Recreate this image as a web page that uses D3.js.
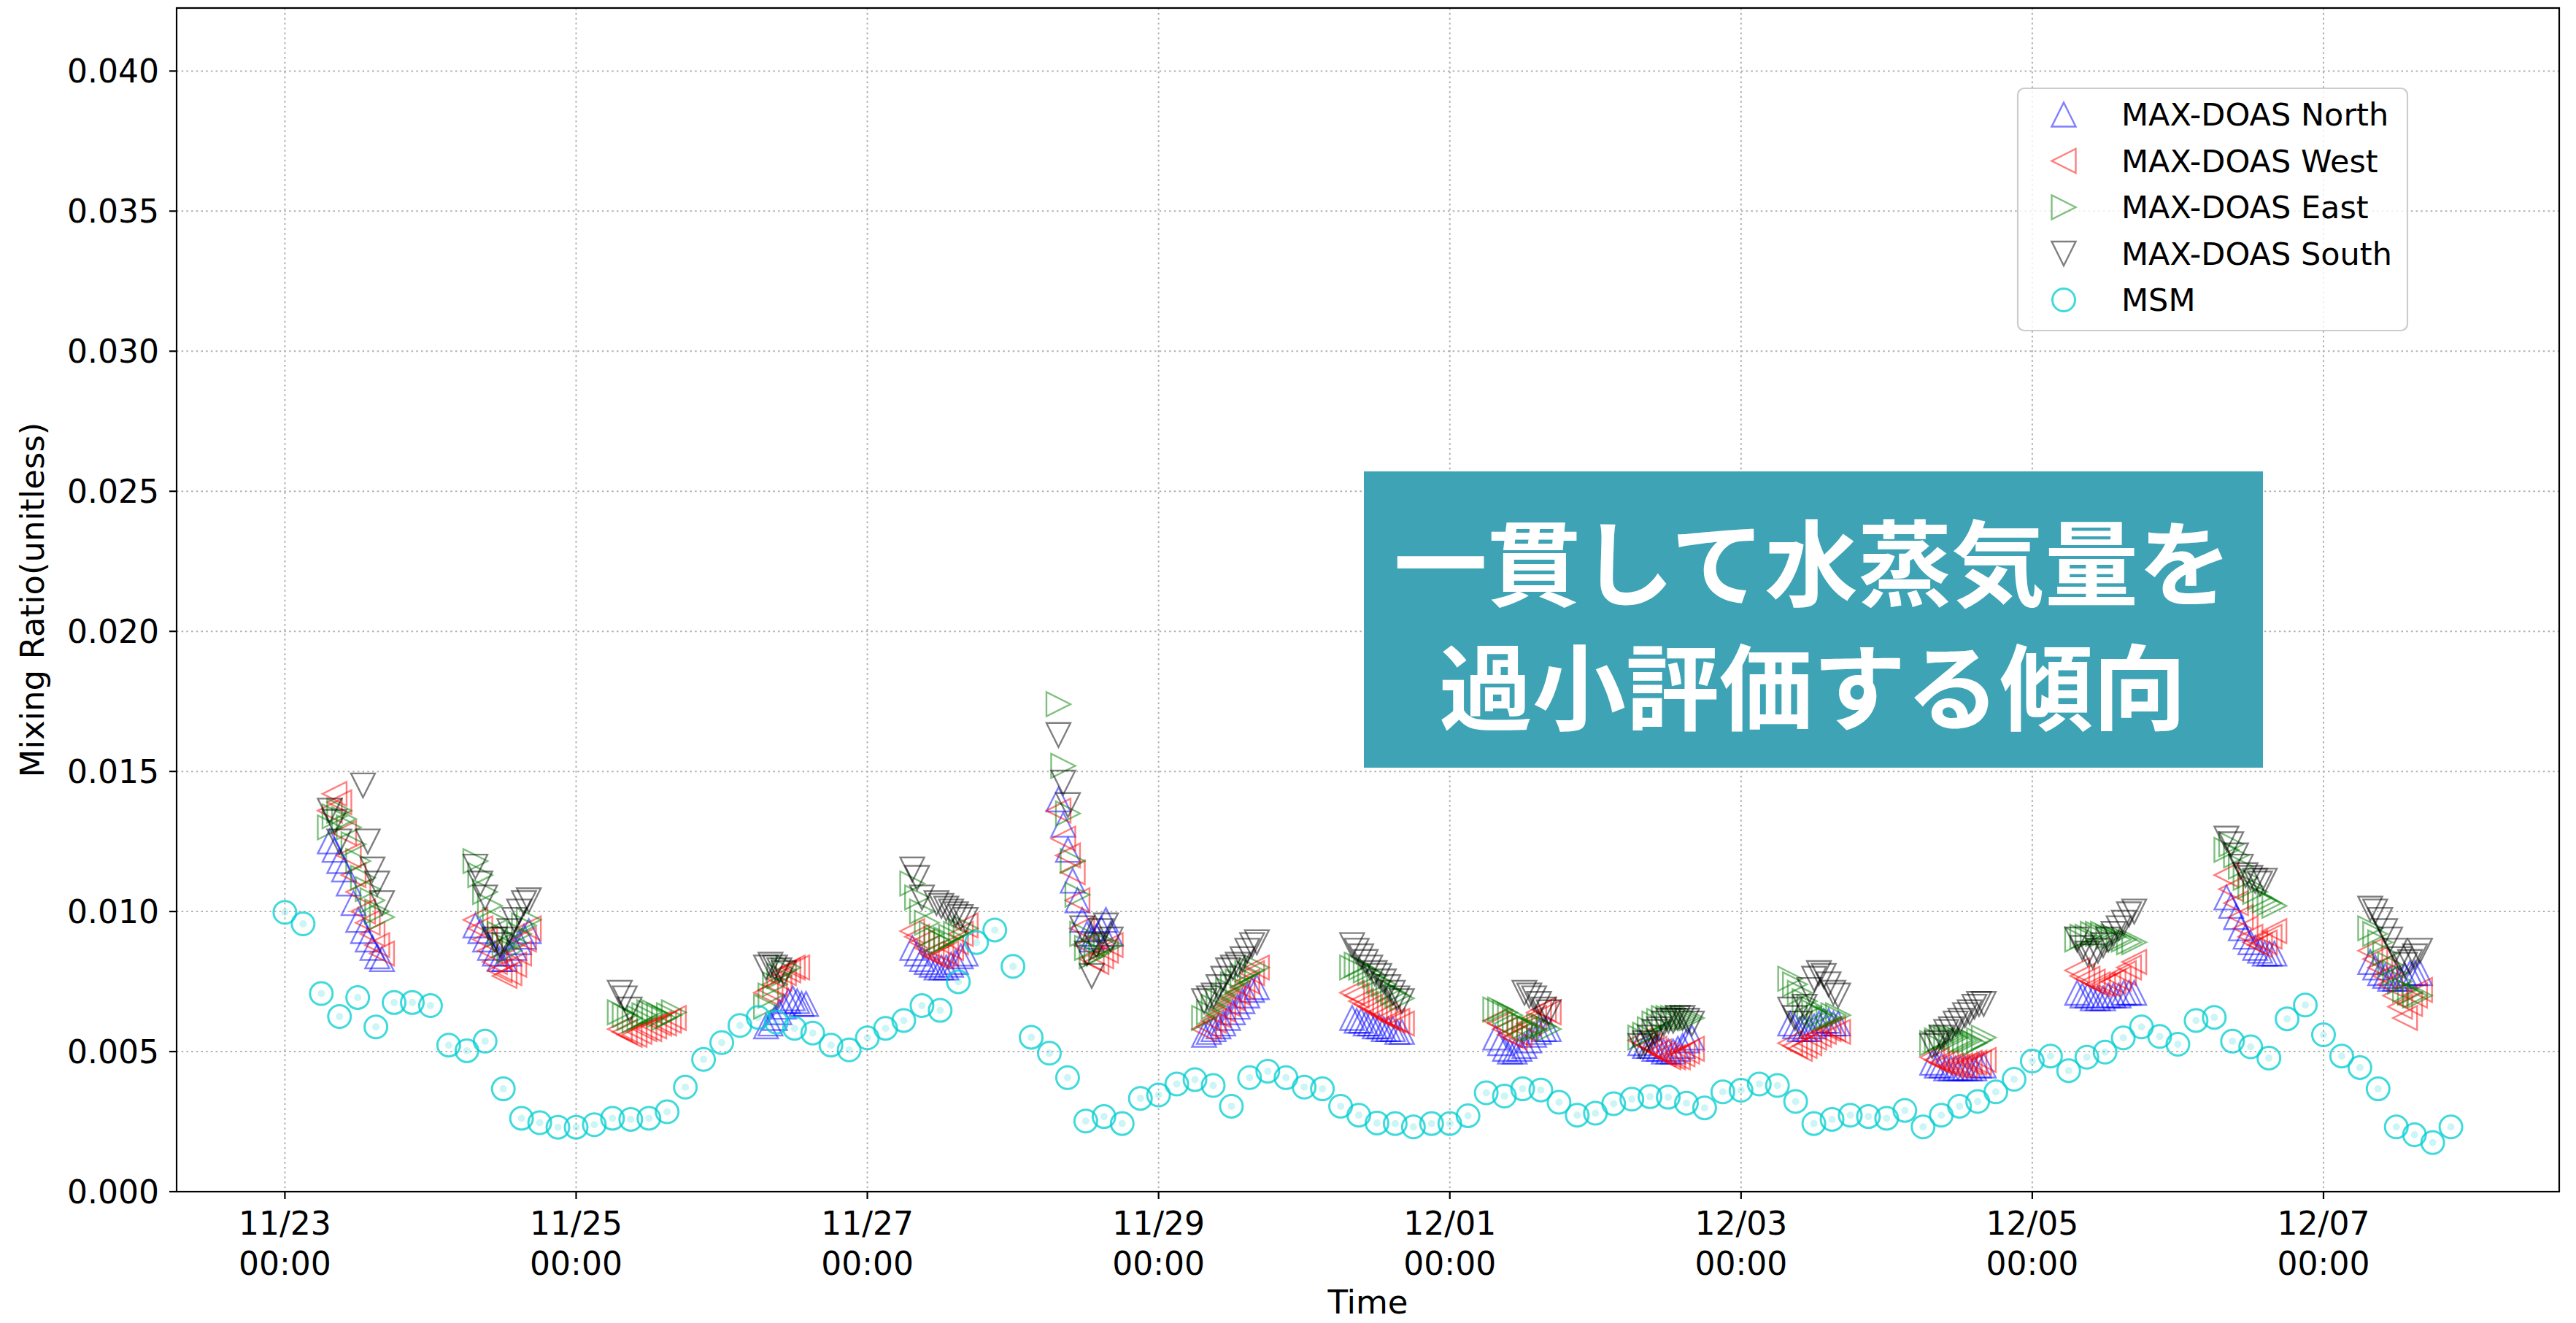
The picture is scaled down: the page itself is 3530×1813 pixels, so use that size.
<!DOCTYPE html>
<html><head><meta charset="utf-8">
<script src="https://cdn.jsdelivr.net/npm/d3@7"></script>
<style>body{margin:0;background:#fff} svg{display:block}</style>
</head><body>
<svg id="chart" width="3530" height="1813"></svg>
<script>
// ---------------- DATA ----------------
const msmStart = "2023-11-23T00:00:00Z";
const msmStepHours = 3;
const msmValues = [
 0.00997,0.00956,0.00707,0.00625,0.00693,0.00588,0.00675,0.00675,
 0.00664,0.00523,0.00503,0.00537,0.00367,0.00262,0.00246,0.00230,
 0.00230,0.00239,0.00262,0.00258,0.00262,0.00285,0.00373,0.00472,
 0.00532,0.00593,0.00622,0.00605,0.00583,0.00566,0.00523,0.00506,
 0.00549,0.00583,0.00611,0.00664,0.00647,0.00749,0.00889,0.00934,
 0.00804,0.00551,0.00494,0.00407,0.00252,0.00268,0.00243,0.00333,
 0.00345,0.00384,0.00400,0.00379,0.00305,0.00407,0.00430,0.00407,
 0.00373,0.00367,0.00305,0.00273,0.00245,0.00243,0.00231,0.00243,
 0.00243,0.00271,0.00353,0.00341,0.00367,0.00363,0.00319,0.00273,
 0.00280,0.00314,0.00330,0.00339,0.00337,0.00316,0.00299,0.00356,
 0.00362,0.00384,0.00379,0.00322,0.00243,0.00258,0.00273,0.00268,
 0.00262,0.00290,0.00231,0.00273,0.00305,0.00322,0.00356,0.00401,
 0.00466,0.00484,0.00432,0.00480,0.00498,0.00549,0.00588,0.00554,
 0.00526,0.00611,0.00622,0.00537,0.00517,0.00477,0.00617,0.00666,
 0.00560,0.00484,0.00443,0.00367,0.00231,0.00203,0.00175,0.00231];

const clusterDates = ["2023-11-23","2023-11-24","2023-11-25","2023-11-26","2023-11-27",
 "2023-11-28","2023-11-29","2023-11-30","2023-12-01","2023-12-02","2023-12-03",
 "2023-12-04","2023-12-05","2023-12-06","2023-12-07"];
const clusterStartHour = [7.4,7.4,7.2,7.3,7.4,7.5,7.5,7.9,7.5,7.4,8.1,7.5,7.4,8.0,7.7];
const clusterEndHour   = [16.0,16.2,16.1,13.9,16.2,16.1,16.2,16.1,16.3,15.9,16.0,16.0,16.8,15.9,15.9];

const northValues = [
 [0.0125,0.0122,0.0118,0.0115,0.0110,0.0103,0.0097,0.0093,0.0090,0.0087,0.0084,0.0083],
 [0.0095,0.0093,0.0090,0.0087,0.0085,0.0083,0.0083,0.0085,0.0087,0.0089,0.0091,0.0093],
 [null,null,null,null,null,null,null,null,null,null,null,null],
 [0.0059,0.0060,0.0062,0.0064,0.0066,0.0068,0.0069,0.0068,0.0067,0.0067],
 [0.0087,0.0085,0.0083,0.0082,0.0081,0.0080,0.0080,0.0080,0.0081,0.0082,0.0084,0.0085],
 [0.0140,0.0131,0.0122,0.0111,0.0104,0.0097,0.0092,0.0090,0.0091,0.0094,0.0097,0.0092],
 [0.0056,0.0057,0.0058,0.0059,0.0060,0.0062,0.0064,0.0066,0.0068,0.0070,0.0072,0.0073],
 [0.0062,0.0061,0.0061,0.0060,0.0060,0.0059,0.0059,0.0058,0.0058,0.0058,0.0057,0.0057],
 [0.0055,0.0053,0.0051,0.0050,0.0050,0.0051,0.0052,0.0054,0.0056,0.0057,0.0058,0.0058],
 [0.0053,0.0052,0.0052,0.0051,0.0051,0.0050,0.0050,0.0050,0.0051,0.0052,0.0054,0.0055],
 [0.0060,0.0059,0.0058,0.0058,0.0058,0.0059,0.0060,0.0061,0.0061,0.0060,0.0060],
 [0.0046,0.0045,0.0045,0.0044,0.0044,0.0044,0.0044,0.0044,0.0044,0.0044,0.0045,0.0045],
 [0.0071,0.0070,0.0070,0.0069,0.0069,0.0069,0.0070,0.0070,0.0070,0.0071,0.0071,0.0071],
 [0.0105,0.0102,0.0098,0.0094,0.0091,0.0089,0.0087,0.0086,0.0085,0.0085,0.0085],
 [0.0082,0.0080,0.0078,0.0077,0.0076,0.0076,0.0076,0.0077,0.0078,0.0078,0.0078]];

const westValues = [
 [0.0136,0.0142,0.0139,0.0128,0.0120,0.0113,0.0107,0.0100,0.0096,0.0092,0.0088,0.0085],
 [0.0097,0.0094,0.0090,0.0086,0.0082,0.0079,0.0077,0.0078,0.0081,0.0085,0.0090,0.0094],
 [0.0058,0.0057,0.0056,0.0056,0.0057,0.0058,0.0058,0.0059,0.0060,0.0060,0.0061,0.0062],
 [0.0071,0.0072,0.0074,0.0076,0.0078,0.0079,0.0080,0.0080,null,null],
 [0.0093,0.0091,0.0089,0.0087,0.0085,0.0084,0.0084,0.0085,0.0087,0.0089,0.0092,0.0095],
 [0.0136,0.0126,0.0120,0.0114,0.0104,0.0094,0.0088,0.0083,0.0082,0.0084,0.0086,0.0088],
 [0.0058,0.0059,0.0061,0.0063,0.0065,0.0067,0.0069,0.0071,0.0073,0.0075,0.0078,0.0080],
 [0.0071,0.0070,0.0068,0.0067,0.0066,0.0065,0.0064,0.0063,0.0062,0.0061,0.0061,0.0060],
 [0.0061,0.0060,0.0058,0.0056,0.0055,0.0056,0.0058,0.0060,0.0062,0.0064,0.0065,0.0064],
 [0.0054,0.0053,0.0052,0.0051,0.0050,0.0049,0.0048,0.0048,0.0048,0.0049,0.0050,0.0051],
 [0.0053,0.0052,0.0051,0.0052,0.0053,0.0055,0.0056,0.0057,0.0058,0.0058,0.0057],
 [0.0048,0.0047,0.0046,0.0046,0.0045,0.0045,0.0045,0.0045,0.0046,0.0046,0.0046,0.0047],
 [0.0079,0.0077,0.0076,0.0075,0.0074,0.0074,0.0074,0.0075,0.0076,0.0078,0.0080,0.0082],
 [0.0113,0.0108,0.0103,0.0098,0.0094,0.0091,0.0089,0.0088,0.0089,0.0091,0.0093],
 [0.0086,0.0083,0.0080,0.0077,0.0074,0.0070,0.0066,0.0062,0.0067,0.0070,0.0072]];

const eastValues = [
 [0.0130,0.0134,0.0136,0.0133,0.0130,0.0124,0.0118,0.0112,0.0108,0.0104,0.0100,0.0098],
 [0.0118,0.0113,0.0107,0.0102,0.0097,0.0092,0.0088,0.0086,0.0089,0.0092,0.0095,0.0097],
 [0.0064,0.0063,0.0062,0.0061,0.0062,0.0063,0.0064,0.0064,0.0063,0.0062,0.0063,0.0064],
 [0.0066,0.0070,0.0074,0.0077,0.0079,0.0080,null,null,null,null],
 [0.0110,0.0105,0.0100,0.0096,0.0092,0.0090,0.0089,0.0090,0.0091,0.0092,0.0093,0.0094],
 [0.0174,0.0152,0.0135,0.0118,0.0106,0.0092,0.0087,0.0084,0.0085,0.0087,0.0088,0.0088],
 [0.0062,0.0064,0.0066,0.0068,0.0070,0.0072,0.0074,0.0075,0.0077,0.0078,0.0079,0.0080],
 [0.0080,0.0081,0.0080,0.0079,0.0078,0.0077,0.0075,0.0074,0.0072,0.0071,0.0070,0.0069],
 [0.0065,0.0065,0.0064,0.0063,0.0061,0.0060,0.0059,0.0058,0.0058,0.0059,0.0059,0.0058],
 [0.0055,0.0056,0.0058,0.0060,0.0061,0.0062,0.0062,0.0062,0.0062,0.0062,0.0062,0.0062],
 [0.0076,0.0074,0.0071,0.0068,0.0066,0.0064,0.0063,0.0062,0.0062,0.0063,0.0063],
 [0.0053,0.0054,0.0055,0.0055,0.0055,0.0055,0.0054,0.0054,0.0054,0.0053,0.0054,0.0055],
 [0.0090,0.0091,0.0091,0.0092,0.0092,0.0092,0.0091,0.0091,0.0090,0.0090,0.0089,0.0089],
 [0.0122,0.0124,0.0120,0.0116,0.0112,0.0109,0.0107,0.0105,0.0104,0.0103,0.0102],
 [0.0094,0.0092,0.0089,0.0085,0.0081,0.0078,0.0075,0.0072,0.0071,0.0070,0.0070]];

const southValues = [
 [0.0136,0.0132,0.0125,null,null,null,null,0.0145,0.0125,0.0115,0.0110,0.0103],
 [0.0116,0.0110,0.0105,null,0.0090,0.0088,0.0090,0.0093,0.0097,0.0100,0.0103,0.0104],
 [0.0071,0.0069,0.0065,null,null,null,null,null,null,null,null,null],
 [0.0080,0.0081,0.0080,0.0079,0.0078,null,null,null,null,null],
 [0.0115,0.0112,0.0105,null,null,0.0103,0.0102,0.0101,0.0100,0.0099,0.0098,0.0097],
 [0.0163,0.0146,0.0138,null,null,0.0094,0.0085,0.0077,0.0088,0.0093,0.0095,0.0090],
 [0.0068,0.0069,0.0070,0.0073,0.0076,0.0079,0.0080,0.0081,0.0083,0.0086,0.0088,0.0089],
 [0.0088,0.0086,0.0084,0.0082,0.0080,0.0078,0.0077,0.0075,0.0073,0.0071,0.0069,0.0068],
 [null,null,null,null,null,null,0.0071,0.0070,0.0069,0.0067,0.0065,0.0064],
 [0.0052,0.0053,0.0055,0.0057,0.0058,0.0060,0.0061,0.0061,0.0062,0.0062,0.0061,0.0060],
 [0.0065,0.0062,0.0060,0.0066,0.0072,0.0076,0.0078,0.0077,0.0074,0.0071,0.0070],
 [0.0052,0.0053,0.0055,0.0057,0.0058,0.0060,0.0061,0.0063,0.0064,0.0066,0.0067,0.0067],
 [0.0090,0.0087,0.0085,0.0084,0.0086,0.0088,0.0090,0.0092,0.0094,0.0096,0.0099,0.0100],
 [0.0126,0.0124,0.0120,0.0116,0.0113,0.0112,0.0111,0.0110,0.0111,null,null],
 [0.0101,0.0100,0.0097,0.0093,0.0090,0.0086,0.0083,0.0081,0.0082,0.0084,0.0086]];

const yTicks = [0,0.005,0.010,0.015,0.020,0.025,0.030,0.035,0.040];
const xTickDates = ["2023-11-23","2023-11-25","2023-11-27","2023-11-29","2023-12-01","2023-12-03","2023-12-05","2023-12-07"];
const seriesNames = ["MAX-DOAS North","MAX-DOAS West","MAX-DOAS East","MAX-DOAS South","MSM"];
const seriesColors = ["#0000ff","#ff0000","#008000","#000000","#00ced1"];
const seriesMarkers = ["up","left","right","down","circle"];
const yDomainTop = 0.04225;
const yLabel = "Mixing Ratio(unitless)";
const xLabel = "Time";
const annotationLines = ["一貫して水蒸気量を","過小評価する傾向"];

// ---------------- LAYOUT ----------------
const W = 3530, H = 1813;
const M = {left:242, top:11, right:3507, bottom:1633};
const FONT = "'DejaVu Sans', sans-serif";
const MS = 33; // marker size

const svg = d3.select("#chart");
const HOUR = 3600e3;
const t0 = Date.parse(msmStart);
const msm = msmValues.map((v,i)=>({t:new Date(t0 + i*msmStepHours*HOUR), v}));

function buildSeries(arr){
  const out=[];
  arr.forEach((vals,ci)=>{
    const base = Date.parse(clusterDates[ci]+"T00:00:00Z");
    const n = vals.length, s=clusterStartHour[ci], e=clusterEndHour[ci];
    vals.forEach((v,k)=>{
      if(v==null) return;
      const h = s + (e-s)*k/(n-1);
      out.push({t:new Date(base + h*HOUR), v});
    });
  });
  return out;
}
const doas = [northValues,westValues,eastValues,southValues].map(buildSeries);

// x domain: data extent + 5% margins (matplotlib autoscale)
const ext = d3.extent(msm, d=>d.t);
const span = ext[1]-ext[0];
const x = d3.scaleUtc().domain([new Date(+ext[0]-0.05*span), new Date(+ext[1]+0.05*span)]).range([M.left, M.right]);
const y = d3.scaleLinear().domain([0, yDomainTop]).range([M.bottom, M.top]);

// grid
const grid = svg.append("g").attr("stroke","#b0b0b0").attr("stroke-width",2).attr("stroke-dasharray","2.5,4.2");
grid.selectAll("line.h").data(yTicks).join("line")
  .attr("x1",M.left).attr("x2",M.right).attr("y1",d=>y(d)).attr("y2",d=>y(d));
const xTicks = xTickDates.map(s=>new Date(s+"T00:00:00Z"));
grid.selectAll("line.v").data(xTicks).join("line")
  .attr("x1",d=>x(d)).attr("x2",d=>x(d)).attr("y1",M.top).attr("y2",M.bottom);

// markers
function markerPath(type, s){
  const h=s/2;
  if(type==="up") return `M0,${-h}L${h},${h}L${-h},${h}Z`;
  if(type==="down") return `M0,${h}L${h},${-h}L${-h},${-h}Z`;
  if(type==="left") return `M${-h},0L${h},${-h}L${h},${h}Z`;
  if(type==="right") return `M${h},0L${-h},${-h}L${-h},${h}Z`;
}
const plot = svg.append("g");
doas.forEach((data,si)=>{
  plot.append("g").selectAll("path").data(data).join("path")
    .attr("d", markerPath(seriesMarkers[si], MS))
    .attr("transform", d=>`translate(${x(d.t)},${y(d.v)})`)
    .attr("fill","none").attr("stroke",seriesColors[si]).attr("stroke-opacity",0.5)
    .attr("stroke-width",2.4).attr("stroke-linejoin","miter");
});
const mg = plot.append("g");
mg.selectAll("circle.ring").data(msm).join("circle").attr("class","ring")
  .attr("cx",d=>x(d.t)).attr("cy",d=>y(d.v)).attr("r",MS/2-1)
  .attr("fill","none").attr("stroke",seriesColors[4]).attr("stroke-opacity",0.75).attr("stroke-width",3);
mg.selectAll("circle.dot").data(msm).join("circle").attr("class","dot")
  .attr("cx",d=>x(d.t)).attr("cy",d=>y(d.v)).attr("r",5)
  .attr("fill",seriesColors[4]).attr("fill-opacity",0.2);

// axes frame
svg.append("rect").attr("x",M.left).attr("y",M.top).attr("width",M.right-M.left).attr("height",M.bottom-M.top)
  .attr("fill","none").attr("stroke","#000").attr("stroke-width",2.2);

// y ticks
const yt = svg.append("g");
yt.selectAll("line").data(yTicks).join("line")
  .attr("x1",M.left-10).attr("x2",M.left).attr("y1",d=>y(d)).attr("y2",d=>y(d))
  .attr("stroke","#000").attr("stroke-width",2.2);
yt.selectAll("text").data(yTicks).join("text")
  .attr("x",M.left-24).attr("y",d=>y(d)).attr("dy","0.36em")
  .attr("text-anchor","end").attr("font-family",FONT).attr("font-size",44)
  .text(d=>d3.format(".3f")(d));

// x ticks
const xt = svg.append("g");
xt.selectAll("line").data(xTicks).join("line")
  .attr("x1",d=>x(d)).attr("x2",d=>x(d)).attr("y1",M.bottom).attr("y2",M.bottom+10)
  .attr("stroke","#000").attr("stroke-width",2.2);
const fmtD = d3.utcFormat("%m/%d"), fmtT = d3.utcFormat("%H:%M");
const xl = xt.selectAll("text").data(xTicks).join("text")
  .attr("text-anchor","middle").attr("font-family",FONT).attr("font-size",44);
xl.append("tspan").attr("x",d=>x(d)).attr("y",1692).text(d=>fmtD(d));
xl.append("tspan").attr("x",d=>x(d)).attr("y",1747).text(d=>fmtT(d));

// axis labels
svg.append("text").attr("x",(M.left+M.right)/2).attr("y",1800).attr("text-anchor","middle")
  .attr("font-family",FONT).attr("font-size",45).text(xLabel);
svg.append("text").attr("transform",`translate(60,${(M.top+M.bottom)/2}) rotate(-90)`)
  .attr("text-anchor","middle").attr("font-family",FONT).attr("font-size",45).text(yLabel);

// legend
const lg = svg.append("g");
lg.append("rect").attr("x",2765).attr("y",121).attr("width",534).attr("height",332).attr("rx",9)
  .attr("fill","#fff").attr("fill-opacity",0.8).attr("stroke","#cccccc").attr("stroke-width",2.2);
seriesNames.forEach((name,i)=>{
  const cy = 157 + i*63.5;
  if(seriesMarkers[i]==="circle"){
    lg.append("circle").attr("cx",2828).attr("cy",cy).attr("r",MS/2-1)
      .attr("fill","none").attr("stroke",seriesColors[i]).attr("stroke-opacity",0.75).attr("stroke-width",3);
  } else {
    lg.append("path").attr("d",markerPath(seriesMarkers[i],MS)).attr("transform",`translate(2828,${cy})`)
      .attr("fill","none").attr("stroke",seriesColors[i]).attr("stroke-opacity",0.5).attr("stroke-width",2.4);
  }
  lg.append("text").attr("x",2907).attr("y",cy).attr("dy","0.36em")
    .attr("font-family",FONT).attr("font-size",43).text(name);
});

// annotation box
const ab = svg.append("g");
ab.append("rect").attr("x",1869).attr("y",646).attr("width",1232).attr("height",406).attr("fill","#3ea3b4");
annotationLines.forEach((s,i)=>{
  ab.append("text").attr("x",2484).attr("y",i===0?821:991).attr("text-anchor","middle")
    .attr("font-family","'Noto Sans CJK JP','Noto Sans CJK SC',sans-serif").attr("font-weight",700)
    .attr("font-size",128).attr("fill","#fff").text(s);
});
</script>
</body></html>
